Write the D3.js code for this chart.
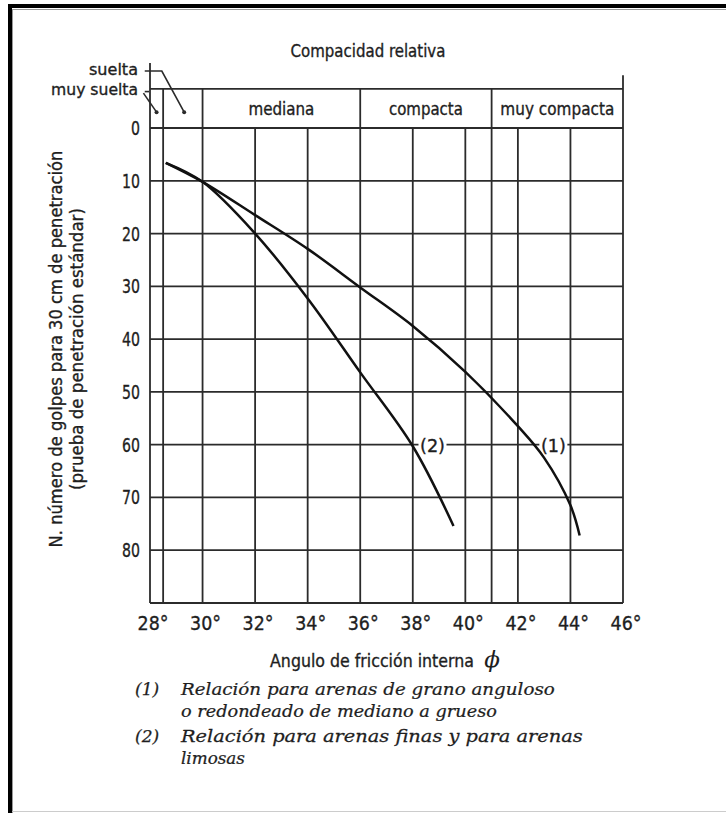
<!DOCTYPE html>
<html>
<head>
<meta charset="utf-8">
<script src="https://cdn.jsdelivr.net/npm/d3@7"></script>
<style>
  body { margin: 0; background: #fff; }
  svg { display: block; }
  .lbl { font-family: "DejaVu Sans", sans-serif; fill: #1e1e1e; stroke: #1e1e1e; stroke-width: 0.35; }
  .note { font-family: "DejaVu Serif", serif; font-style: italic; fill: #1e1e1e; stroke: #1e1e1e; stroke-width: 0.25; }
</style>
</head>
<body>
<div id="chart"></div>
<script>
// data
const xTicks = [28, 30, 32, 34, 36, 38, 40, 42, 44, 46];
const xExtra = [28.5, 41];              // class boundaries that run down the grid
const yTicks = [0, 10, 20, 30, 40, 50, 60, 70, 80];
const densityBounds = [28, 28.5, 30, 36, 41, 46];
const densityNames = ["mediana", "compacta", "muy compacta"];

const angle1 = [28.6, 30, 32, 34, 36, 38, 40, 42, 43, 44, 44.35];
const blows1 = [6.6, 10.2, 16.5, 22.9, 30.2, 37.5, 46.2, 56.5, 62.5, 71.5, 77.2];
const angle2 = [28.6, 30, 32, 34, 36, 38, 39.55];
const blows2 = [6.6, 10.2, 20, 32.3, 46.3, 60.3, 75.4];

const notes = [
  ["(1)", "Relación para arenas de grano anguloso"],
  ["", "o redondeado de mediano a grueso"],
  ["(2)", "Relación para arenas finas y para arenas"],
  ["", "limosas"]
];
const noteWidths = [374, 316, 402, 64];
const noteBase = [695, 717, 742, 764];

const svgWidth = 726, svgHeight = 813;
const x = d3.scaleLinear().domain([28, 46]).range([150, 623]);
const y = d3.scaleLinear().domain([0, 90]).range([128, 603]);
const ink = "#2b2b2b";

const svg = d3.select('#chart').append('svg')
  .attr('width', svgWidth)
  .attr('height', svgHeight);

// condensed look: squeeze text horizontally to the width it has in the scan
function squeeze(g, str, px, py, size, w, anchor, cls) {
  const t = g.append('text').attr('class', cls || 'lbl')
    .attr('font-size', size)
    .attr('text-anchor', anchor || 'middle')
    .text(str);
  const len = t.node().getComputedTextLength();
  t.attr('transform', `translate(${px},${py}) scale(${w / len},1)`);
  return t;
}

// page frame (scan edges)
svg.append('rect').attr('x', 8).attr('y', 4).attr('width', 718).attr('height', 4).attr('fill', '#000');
svg.append('rect').attr('x', 8).attr('y', 4).attr('width', 4).attr('height', 809).attr('fill', '#000');
svg.append('line').attr('x1', 12).attr('x2', 726).attr('y1', 9.5).attr('y2', 9.5).attr('stroke', '#999');
svg.append('line').attr('x1', 12.5).attr('x2', 12.5).attr('y1', 9).attr('y2', 813).attr('stroke', '#999');
svg.append('line').attr('x1', 12).attr('x2', 726).attr('y1', 811.5).attr('y2', 811.5).attr('stroke', '#ccc');

const grid = svg.append('g').attr('stroke', ink).attr('stroke-width', 1.8).attr('fill', 'none');

// vertical grid
grid.selectAll('line.v')
  .data(xTicks.concat(xExtra))
  .join('line')
  .attr('class', 'v')
  .attr('x1', d => x(d)).attr('x2', d => x(d))
  .attr('y1', y(0)).attr('y2', y(90));

// horizontal grid
grid.selectAll('line.h')
  .data(yTicks.concat([90]))
  .join('line')
  .attr('class', 'h')
  .attr('x1', x(28)).attr('x2', x(46))
  .attr('y1', d => y(d)).attr('y2', d => y(d));

// header box of relative density
grid.selectAll('line.hb')
  .data(densityBounds)
  .join('line')
  .attr('class', 'hb')
  .attr('x1', d => x(d)).attr('x2', d => x(d))
  .attr('y1', d => d === 28 ? y(-12.3) : d === 46 ? y(-10) : y(-7.4))
  .attr('y2', y(0));
grid.append('line').attr('x1', x(28)).attr('x2', x(46)).attr('y1', y(-7.4)).attr('y2', y(-7.4));

const densW = [66, 74, 114];
densityNames.forEach((d, i) => {
  const a = densityBounds[i + 2], b = densityBounds[i + 3];
  squeeze(svg, d, (x(a) + x(b)) / 2, y(-2.6) + 1, 17, densW[i]);
});

squeeze(svg, 'Compacidad relativa', 368, 57, 17, 155);
squeeze(svg, 'suelta', 138, 75, 16, 49, 'end');
squeeze(svg, 'muy suelta', 138, 95, 16, 87, 'end');

// pointers for suelta / muy suelta
const ptr = svg.append('g').attr('stroke', ink).attr('stroke-width', 1.6).attr('fill', 'none');
ptr.append('path').attr('d', d3.line()([[x(27.8), y(-10.8)], [x(28.45), y(-10.8)], [x(29.3), y(-3.0)]]));
ptr.append('path').attr('d', d3.line()([[x(27.8), y(-6.9)], [x(28) - 1, y(-6.9)]]));
ptr.append('path').attr('d', d3.line()([[x(27.75), y(-6.6)], [x(28.25), y(-3.0)]]));
svg.append('circle').attr('cx', x(29.3)).attr('cy', y(-3.0)).attr('r', 2).attr('fill', ink);
svg.append('circle').attr('cx', x(28.25)).attr('cy', y(-3.0)).attr('r', 2).attr('fill', ink);

// axis tick labels
yTicks.forEach(d => squeeze(svg, String(d), 140, y(d) + 7, 19, d === 0 ? 9 : 18, 'end'));
xTicks.forEach(d => squeeze(svg, d + '°', x(d) + 3, y(90) + 27, 19, 31));

// axis titles
const yg = svg.append('g').attr('transform', 'translate(62,349) rotate(-90)');
squeeze(yg, 'N. número de golpes para 30 cm de penetración', 0, 0, 17, 397);
squeeze(yg, '(prueba de penetración estándar)', 0, 21, 17, 282);

squeeze(svg, 'Angulo de fricción interna', 372, 667, 17, 204);
svg.append('text')
  .attr('x', 492).attr('y', 667)
  .attr('text-anchor', 'middle')
  .attr('font-family', 'DejaVu Serif').attr('font-style', 'italic').attr('font-size', 23)
  .attr('fill', '#1e1e1e')
  .text('ϕ');

// curves
const line = d3.line().x(d => x(d[0])).y(d => y(d[1])).curve(d3.curveCatmullRom);
const curves = [d3.zip(angle1, blows1), d3.zip(angle2, blows2)];
svg.append('g').selectAll('path')
  .data(curves)
  .join('path')
  .attr('d', line)
  .attr('fill', 'none')
  .attr('stroke', '#111')
  .attr('stroke-width', 2.5);

// curve labels sitting on the 60 line
const tags = [["(1)", 43.35], ["(2)", 38.75]];
tags.forEach(([t, a]) => {
  svg.append('rect').attr('x', x(a) - 14).attr('y', y(60) - 3).attr('width', 28).attr('height', 6).attr('fill', '#fff');
  squeeze(svg, t, x(a), y(60) + 7, 18, 25);
});

// notes under the chart
notes.forEach(([k, t], i) => {
  if (k) svg.append('text').attr('class', 'note').attr('x', 135).attr('y', noteBase[i]).attr('font-size', 17).text(k);
  squeeze(svg, t, 181, noteBase[i], 17, noteWidths[i], 'start', 'note');
});
</script>
</body>
</html>
